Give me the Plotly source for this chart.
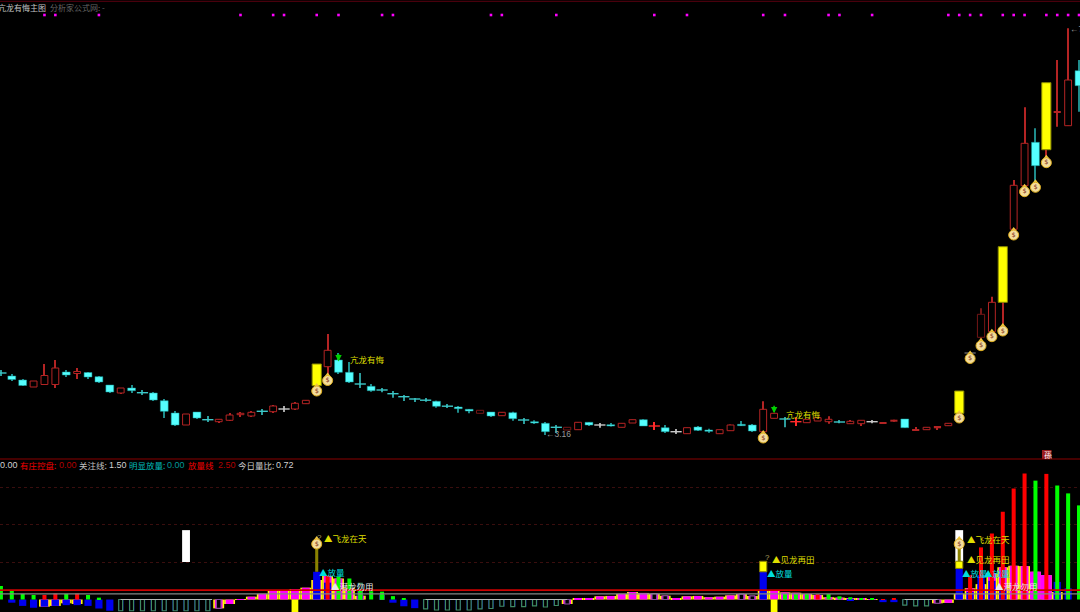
import plotly.graph_objects as go

# ---------- price pane ----------
highs = [3.77,3.73,3.68,3.66,3.83,3.87,3.77,3.79,3.75,3.71,3.62,3.59,3.62,3.57,3.55,3.48,3.36,3.33,3.35,3.31,
         3.277,3.34,3.35,3.36,3.38,3.42,3.41,3.45,3.47,3.83,4.13,3.94,3.85,3.74,3.63,3.59,3.56,3.52,3.49,3.49,
         3.463,3.43,3.41,3.38,3.367,3.35,3.347,3.353,3.29,3.267,3.25,3.22,3.197,3.247,3.247,3.24,3.24,3.237,3.273,3.277,
         3.25,3.22,3.18,3.193,3.21,3.183,3.173,3.225,3.26,3.23,3.457,3.337,3.30,3.297,3.277,3.293,3.307,3.27,3.27,3.267,
         3.27,3.25,3.273,3.28,3.20,3.197,3.21,3.237,3.56,3.95,4.387,4.503,5.003,5.67,6.397,6.187,6.643,6.87,7.187,6.87]
opens = [3.74,3.71,3.67,3.60,3.625,3.625,3.75,3.735,3.745,3.703,3.62,3.54,3.59,3.543,3.54,3.463,3.34,3.22,3.35,3.273,
         3.253,3.267,3.323,3.31,3.357,3.353,3.38,3.38,3.433,3.613,3.803,3.87,3.747,3.63,3.607,3.57,3.533,3.503,3.48,3.468,
         3.457,3.408,3.40,3.377,3.337,3.35,3.313,3.343,3.27,3.253,3.237,3.197,3.17,3.173,3.247,3.22,3.223,3.197,3.24,3.273,
         3.21,3.193,3.153,3.133,3.20,3.17,3.133,3.163,3.227,3.22,3.153,3.287,3.28,3.253,3.243,3.26,3.253,3.25,3.233,3.233,
         3.253,3.23,3.253,3.28,3.16,3.173,3.187,3.213,3.337,3.94,4.097,4.153,4.447,5.177,5.613,6.047,5.973,6.34,6.213,6.763]
closes = [3.74,3.675,3.615,3.66,3.715,3.79,3.72,3.755,3.70,3.65,3.55,3.59,3.563,3.543,3.47,3.357,3.22,3.33,3.29,3.273,
          3.277,3.32,3.337,3.347,3.357,3.41,3.38,3.437,3.467,3.83,3.967,3.747,3.65,3.63,3.563,3.57,3.533,3.503,3.48,3.468,
          3.407,3.408,3.383,3.36,3.367,3.31,3.347,3.283,3.27,3.24,3.153,3.197,3.197,3.247,3.22,3.22,3.21,3.237,3.273,3.21,
          3.21,3.153,3.153,3.193,3.167,3.157,3.173,3.22,3.213,3.16,3.377,3.337,3.28,3.253,3.277,3.293,3.277,3.25,3.257,3.267,
          3.253,3.25,3.273,3.193,3.18,3.197,3.21,3.237,3.56,3.94,4.327,4.447,5.003,5.617,6.037,5.813,6.643,6.36,6.67,6.613]
lows = [3.71,3.66,3.61,3.60,3.625,3.59,3.70,3.68,3.68,3.64,3.54,3.53,3.54,3.52,3.46,3.29,3.21,3.22,3.28,3.25,
        3.24,3.26,3.30,3.30,3.32,3.34,3.35,3.37,3.43,3.56,3.71,3.73,3.64,3.59,3.553,3.547,3.493,3.46,3.45,3.453,
        3.393,3.39,3.343,3.337,3.337,3.30,3.313,3.263,3.23,3.23,3.12,3.14,3.17,3.173,3.21,3.193,3.205,3.197,3.24,3.21,
        3.17,3.14,3.13,3.133,3.16,3.143,3.133,3.163,3.21,3.15,3.14,3.287,3.197,3.21,3.243,3.26,3.233,3.237,3.233,3.21,
        3.237,3.23,3.253,3.193,3.16,3.173,3.17,3.213,3.29,3.93,4.02,4.11,4.20,5.12,5.57,5.653,5.89,6.203,6.213,6.353]
kinds = ("x c c r r r c r c c c r c x c c c r c x "
         "r r r r x r w r r y r c c x c x x x x x "
         "c x c c d c r c x c c x d r c w c r r c "
         "p c w r c c r r c c r r x p r r r x r r "
         "w f f c f r f r y g d r y r r c y f r c").split()
money_idx = [29,30,70,88,89,90,91,92,93,94,95,96]
money_price = [3.56,3.665,3.09,3.29,3.885,4.013,4.103,4.16,5.12,5.553,5.597,5.843]
signal_idx = [4,5,9,22,25,26,29,31,35,36,45,46,51,60,63,70,72,76,77,80,87,88,89,90,92,93,94,96,97,98,99]
signal_price = 7.32
arrow_idx = [31,71]

# ---------- indicator pane ----------
stripe = [0,0,0,0,-1.9,-1.7,-1.0,-1.2,0,0, 0,0,0,0,0,0,0,0,0,0,
          -2.35,-1.2,-0.1,0.75,1.5,2.3,2.5,2.8,3.15,5.2, 6.3,5.6,3,1,0,0,0,0,0,0,
          0,0,0,0,0,0,0,0,0,0, 0,0,-1.2,0.2,0.4,0.85,0.95,1.5,2,1.75,
          1.55,1.0,0.4,0.85,0.95,0.6,0.75,1.1,1.45,0.95, 2.35,2.35,1.9,1.8,1.45,1.2,0.6,0.5,0.3,0.2,
          0.1,0,0,0,0,0,-1.0,-0.9,1.5,3, 4.1,7,8.6,9,8.9,7.4,6.5,2,0,0]
solid_magenta_idx = [95,96]
solid_magenta_val = [7.4,6.5]
blue_idx = [1,2,3,4,5,6,7,8,9,10,29,30,36,37,38,70,78,81,82,88,89,90,91,92,97,98]
blue_val = [-0.85,-1.7,-2.2,-1.9,-1.7,-1.5,-1.5,-1.7,-2.4,-3,7.4,4.5,-0.85,-1.8,-2.3,7.4,-0.3,-0.7,-0.7,8.3,2,6.5,5,3,4.7,3]
hollow_idx = [11,12,13,14,15,16,17,18,19,39,40,41,42,43,44,45,46,47,48,49,50,51,83,84,85,33,35]
hollow_val = [-3,-3,-3,-3,-3,-3,-3,-3,-3,-2.5,-2.8,-2.8,-2.8,-2.8,-2.5,-2.4,-1.8,-1.9,-1.9,-1.7,-2,-1.6,-1.5,-1.7,-1.7,4.3,1.2]
purple_idx = [20,52,60,61,68,69,86]
purple_val = [-2.35,-1.2,1.55,1.0,1.45,0.95,-1.0]
green_idx = [0,1,2,3,6,8,9,31,32,33,34,35,36,37,72,73,74,76,77,78,79,80,95,97,98,99]
green_val = [3.6,2.4,1.5,1.2,1.5,1.2,0.5,6.1,5.6,2.3,2.2,2.1,0.9,0.2,1.45,1.45,1.45,1.45,0.85,0.6,0.35,0.25,31.7,30.4,28.3,25.1]
red_idx = [4,5,7,30,75,81,82,89,90,91,92,93,94,96]
red_val = [1.2,1.6,1.6,6.3,1.45,0.1,0.3,6.5,13.9,17.6,23.4,29.6,33.6,33.5]
yellow_down_idx = [27,71]
yellow_down_val = [-3.33,-3.33]
stem_idx = [29,88]
stem_low = [7.4,8.3]
stem_high = [13.6,14]
yellow_cap_idx = [70,88]
yellow_cap_low = [7.4,8.3]
yellow_cap_high = [10.2,10.2]
white_idx = [17,88]
white_low = [10,10]
white_high = [18.5,18.5]
pane_money_idx = [29,88]
pane_money_val = [14.8,14.8]
attention_line = 1.5
volume_line = 2.5
grid_levels = [10,20,30]

RED, DARK, CYAN, YEL = "#b42424", "#741616", "#55ffff", "#ffff00"
WICK = {"r":RED,"d":DARK,"f":RED,"y":RED,"c":"#1f8c8c","x":"#2c9c9c","w":"#a8a8a8","p":"#ff2a2a","g":"#555555"}
n = len(opens)
idx = list(range(n))

fig = go.Figure()

def band(xs, lo, hi, color, width, line=None, lw=1, axis="y2"):
    fig.add_bar(x=xs, base=lo, y=[h-l for h, l in zip(hi, lo)], width=width, yaxis=axis,
                marker=dict(color=color, line=dict(color=line or color, width=lw if line else 0)),
                hoverinfo="skip", showlegend=False)

# wicks are thin bars so the candle bodies can cover them
for color in sorted(set(WICK.values())):
    sel = [i for i in idx if WICK[kinds[i]] == color]
    band(sel, [lows[i] for i in sel], [highs[i] for i in sel], color, 0.1, axis="y")

# bodies
def body(kind_set, color, width, line=None, lw=1):
    sel = [i for i in idx if kinds[i] in kind_set]
    band(sel, [min(opens[i], closes[i]) for i in sel], [max(opens[i], closes[i]) for i in sel],
         color, width, line, lw, axis="y")
body("r", "#000000", 0.63, RED)
body("d", "#000000", 0.66, DARK)
body("f", RED, 0.66)
body("c", CYAN, 0.72, "#159a9a", 0.5)
body("y", YEL, 0.84, "#8a8a00")

# cross candles
for k, color in (("x", "#3cc8c8"), ("w", "#c8c8c8"), ("p", "#ff2a2a"), ("g", "#666666")):
    sel = [i for i in idx if kinds[i] == k]
    fig.add_scatter(x=sel, y=[opens[i] for i in sel], mode="markers", hoverinfo="skip", showlegend=False,
                    marker=dict(symbol="line-ew", size=8, line=dict(color=color, width=1.4)))

# top signal dots
fig.add_scatter(x=signal_idx, y=[signal_price]*len(signal_idx), mode="markers", hoverinfo="skip", showlegend=False,
                marker=dict(symbol="square", size=2.6, color="#ff00ff"))

def money(xs, ys, axis, neck):
    fig.add_scatter(x=xs, y=[v+neck for v in ys], yaxis=axis, mode="markers", hoverinfo="skip", showlegend=False,
                    marker=dict(symbol="triangle-up", size=5, color="#f0c840"))
    fig.add_scatter(x=xs, y=ys, yaxis=axis, mode="markers+text", hoverinfo="skip", showlegend=False,
                    text=["$"]*len(xs), textposition="middle center", textfont=dict(size=6.5, color="#8a4028", family="DejaVu Sans"),
                    marker=dict(symbol="circle", size=10, color="#f3dc9a", line=dict(color="#e0b020", width=1)))

money(money_idx, money_price, "y", 0.055)

# indicator bars
sy = [i for i in idx if stripe[i] != 0]
band(sy, [0]*len(sy), [stripe[i] for i in sy], YEL, 1.0)
band(sy, [0]*len(sy), [stripe[i] for i in sy], "#ff00ff", 0.72)
band(solid_magenta_idx, [0,0], solid_magenta_val, "#ff00ff", 1.0)
band(blue_idx, [0]*len(blue_idx), blue_val, "#0000ee", 0.66)
band(hollow_idx, [0]*len(hollow_idx), hollow_val, "#0000c8", 0.5)
band(hollow_idx, [0]*len(hollow_idx), hollow_val, "#000000", 0.36, "#3f8a62", 1.2)
band(purple_idx, [0]*len(purple_idx), purple_val, "#000000", 0.42, "#8a4aa0", 1.2)
band(green_idx, [0]*len(green_idx), green_val, "#00ff00", 0.37)
band(red_idx, [0]*len(red_idx), red_val, "#ff0000", 0.37)
band(yellow_down_idx, [0,0], yellow_down_val, YEL, 0.62)
band(white_idx, white_low, white_high, "#ffffff", 0.72)
band(stem_idx, stem_low, stem_high, "#8a8200", 0.28)
band(yellow_cap_idx, yellow_cap_low, yellow_cap_high, YEL, 0.66, "#8a8200")
money(pane_money_idx, pane_money_val, "y2", 1.5)
fig.add_scatter(x=[11, 19.4, None, 39, 52, None, 83, 86], y=[0,0,None,0,0,None,0,0], yaxis="y2", mode="lines",
                line=dict(color="#b8b8b8", width=1), hoverinfo="skip", showlegend=False)

W, H = 1080, 612
def label(px, py, text, color, size=8.5, family="Noto Sans CJK SC", **kw):
    fig.add_annotation(x=px/W, y=1-py/H, xref="paper", yref="paper", text=text, showarrow=False, xanchor="left",
                       yanchor="middle", font=dict(size=size, color=color, family=family), borderpad=0, **kw)

label(-3, 8, "亢龙有悔主图", "#c0c0c0", 8)
label(49, 8, "分析家公式网: -", "#666666", 8)
label(349, 359, "亢龙有悔", "#dede00")
label(785, 414, "亢龙有悔", "#dede00")
label(545, 434, "←3.16", "#9a9a9a", 8.5, "Liberation Sans")
label(1069, 29, "←7.19", "#9a9a9a", 8.5, "Liberation Sans")
NUM = "Liberation Sans"
label(-1, 465, "0.00", "#d0d0d0", 9, NUM)
label(19, 465, "有庄控盘:", "#f00000")
label(58, 465, "0.00", "#b00000", 9, NUM)
label(78, 465, "关注线:", "#c0c0c0")
label(108, 465, "1.50", "#d0d0d0", 9, NUM)
label(128, 465, "明显放量:", "#00b8b8")
label(166, 465, "0.00", "#009898", 9, NUM)
label(187, 465, "放量线", "#f00000")
label(217, 465, "2.50", "#b00000", 9, NUM)
label(237, 465, "今日量比:", "#c8c8c8")
label(275, 465, "0.72", "#d0d0d0", 9, NUM)
for px, py, t, c in [(323, 538, "▲飞龙在天", "#dede00"), (318, 572, "▲放量", "#00dede"), (330, 586, "▲潜龙勿用", "#e8e8e8"),
                     (771, 559, "▲见龙再田", "#dede00"), (766, 572.5, "▲放量", "#00dede"),
                     (966, 538.5, "▲飞龙在天", "#dede00"), (966, 559, "▲见龙再田", "#dede00"),
                     (961, 572.5, "▲放量", "#00dede"), (983, 572.5, "▲放量", "#00dede"), (994, 585.7, "▲潜龙勿用", "#e8e8e8")]:
    label(px, py, t, c)
label(315.5, 537, "?", "#b0a060", 8, NUM)
label(763.5, 557, "?", "#b0a060", 8, NUM)
label(1042.5, 454.5, "孫", "#ffffff", 8)

# green arrows on the price pane
for i in arrow_idx:
    top = highs[i] + 0.005 if i == 31 else highs[i] + 0.09
    fig.add_annotation(x=i, y=top-0.09, ax=i, ay=top, xref="x", yref="y", axref="x", ayref="y", text="", showarrow=True,
                       arrowhead=2, arrowsize=0.8, arrowwidth=1.6, arrowcolor="#00d000")

shapes = [
    dict(type="line", xref="paper", yref="paper", x0=0, x1=1, y0=1-1.3/H, y1=1-1.3/H, line=dict(color="#5a0010", width=1)),
    dict(type="line", xref="paper", yref="paper", x0=0, x1=1, y0=1-459/H, y1=1-459/H, line=dict(color="#8a0000", width=1)),
    dict(type="rect", xref="paper", yref="paper", x0=1042/W, x1=1051.5/W, y0=1-459/H, y1=1-450/H, fillcolor="#9a1c1c",
         line=dict(width=0), layer="below"),
    dict(type="line", xref="paper", yref="y2", x0=0, x1=1, y0=volume_line, y1=volume_line, line=dict(color="#cc0000", width=1.8)),
    dict(type="line", xref="paper", yref="y2", x0=0, x1=1, y0=attention_line, y1=attention_line, line=dict(color="#868686", width=1.4)),
]

fig.update_layout(
    width=W, height=H, margin=dict(l=0, r=0, t=0, b=0), paper_bgcolor="#000000", plot_bgcolor="#000000",
    barmode="overlay", showlegend=False, shapes=shapes,
    xaxis=dict(range=[-0.083, 99.09], visible=False, fixedrange=True),
    yaxis=dict(domain=[0.25, 1], range=[2.88, 7.47], visible=False, fixedrange=True),
    yaxis2=dict(domain=[0, 0.25], range=[-3.33, 37.47], showgrid=True, tickvals=grid_levels, griddash="dot",
                gridcolor="#3a0e0e", gridwidth=1, zeroline=False, showticklabels=False, showline=False, ticks="", fixedrange=True),
)
fig.write_html("out.html", config={"displayModeBar": False},
               post_script="document.body.style.margin='0';document.body.style.background='#000';document.body.style.overflow='hidden';")
